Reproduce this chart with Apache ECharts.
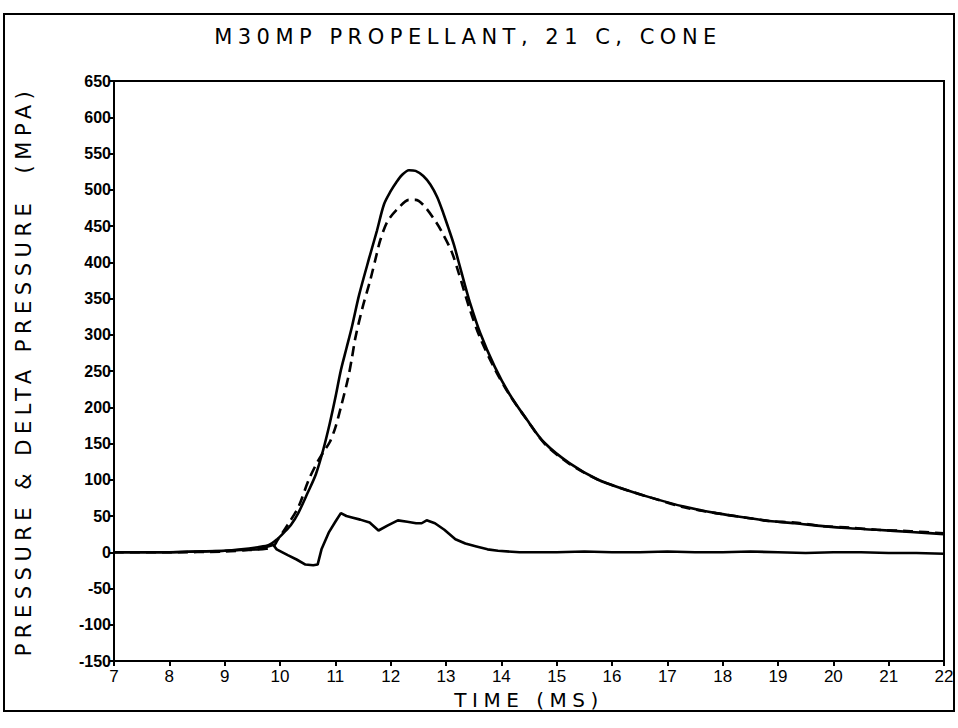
<!DOCTYPE html>
<html><head><meta charset="utf-8">
<script src="https://cdn.jsdelivr.net/npm/echarts@6/dist/echarts.min.js"></script>
<style>
html,body{margin:0;padding:0;background:#fff}
#c{width:958px;height:728px}
#c text{white-space:pre}
#c text[style*="DejaVu"]{letter-spacing:5.5px}
</style>
</head><body>
<div id="c"></div>
<script>
// ---- data ----
const titleText = 'M30MP PROPELLANT, 21 C, CONE';
const xName = 'TIME (MS)';
const yName = 'PRESSURE & DELTA PRESSURE  (MPA)';
const xTicks = [7, 8, 9, 10, 11, 12, 13, 14, 15, 16, 17, 18, 19, 20, 21, 22];
const yTicks = [-150, -100, -50, 0, 50, 100, 150, 200, 250, 300, 350, 400, 450, 500, 550, 600, 650];

// pressure (solid)
const solidT = [7, 8, 8.5, 9, 9.3, 9.6, 9.8, 9.95, 10.07, 10.2, 10.33, 10.5, 10.65, 10.78, 10.9, 11.0, 11.1, 11.2, 11.3, 11.43, 11.62, 11.75, 11.88, 12.0, 12.1, 12.2, 12.33, 12.45, 12.59, 12.72, 12.84, 12.95, 13.04, 13.14, 13.23, 13.33, 13.43, 13.62, 13.88, 14.14, 14.46, 14.78, 15.23, 15.75, 16.26, 16.72, 17.3, 17.88, 18.4, 18.84, 19.3, 19.81, 20.3, 20.78, 21.4, 22];
const solidP = [0, 0, 1, 2, 4, 7, 10, 18, 27, 38, 54, 82, 108, 141, 178, 213, 251, 281, 311, 355, 408, 443, 480, 498, 510, 520, 527, 526, 519, 507, 490, 468, 448, 425, 400, 372, 345, 302, 256, 219, 183, 151, 123, 100, 86, 75, 63, 54, 48, 43, 40, 36, 33, 31, 28, 25];

// pressure (dashed)
const dashT = [7, 8, 9, 9.43, 9.75, 9.88, 9.95, 10.14, 10.33, 10.52, 10.68, 10.8, 10.9, 11.0, 11.1, 11.23, 11.3, 11.36, 11.49, 11.63, 11.75, 11.81, 11.94, 12.13, 12.33, 12.45, 12.59, 12.78, 12.91, 13.1, 13.23, 13.43, 13.62, 13.88, 14.14, 14.46, 14.78, 15.23, 15.75, 16.26, 16.72, 17.3, 17.88, 18.4, 18.84, 19.3, 19.81, 20.3, 20.78, 21.4, 22];
const dashP = [0, 0, 1, 3, 5, 8, 16, 38, 62, 100, 125, 140, 152, 172, 200, 240, 268, 295, 337, 375, 412, 430, 456, 474, 486, 486, 479, 460, 444, 415, 385, 335, 295, 253, 218, 183, 150, 122, 100, 86, 75, 62, 54, 48, 43, 41, 36, 34, 31, 29, 26];

// delta pressure (solid, lower)
const deltaT = [7, 8, 8.5, 9, 9.3, 9.6, 9.88, 9.94, 10.14, 10.3, 10.46, 10.6, 10.68, 10.75, 10.88, 11.0, 11.1, 11.2, 11.3, 11.45, 11.62, 11.78, 11.95, 12.13, 12.3, 12.46, 12.56, 12.65, 12.8, 12.97, 13.17, 13.35, 13.55, 13.75, 13.94, 14.33, 15, 15.5, 16, 16.5, 17, 17.5, 18, 18.5, 19, 19.5, 20, 20.5, 21, 21.5, 22];
const deltaV = [0, 0, 1, 2, 3, 4, 10, 4, -4, -10, -17, -18, -17, 4, 27, 42, 54, 50, 48, 45, 41, 30, 37, 44, 42, 40, 40, 44, 40, 31, 18, 12, 8, 4, 2, 0, 0, 1, 0, 0, 1, 0, 0, 1, 0, -1, 0, 0, -1, -1, -2];

const zip = (a, b) => a.map((v, i) => [v, b[i]]);

const chart = echarts.init(document.getElementById('c'), null, {renderer: 'svg', width: 958, height: 728});
const lineW = 2.6;
chart.setOption({
  animation: false,
  backgroundColor: '#fff',
  grid: {left: 114, top: 81, width: 830, height: 580, show: true, borderColor: '#000', borderWidth: 2, backgroundColor: 'transparent'},
  xAxis: {
    type: 'value', min: xTicks[0], max: xTicks[xTicks.length - 1], interval: 1,
    name: xName, nameLocation: 'middle', nameGap: 27,
    nameTextStyle: {fontFamily: 'DejaVu Sans', fontSize: 20, color: '#000'},
    axisLine: {onZero: false, lineStyle: {color: '#000', width: 2}},
    axisTick: {show: true, length: 5, lineStyle: {color: '#000', width: 2}},
    axisLabel: {fontFamily: 'Liberation Sans', fontSize: 17, color: '#000', margin: 7},
    splitLine: {show: false}
  },
  yAxis: {
    type: 'value', min: yTicks[0], max: yTicks[yTicks.length - 1], interval: 50,
    name: yName, nameLocation: 'middle', nameGap: 80, nameRotate: 90,
    nameTextStyle: {fontFamily: 'DejaVu Sans', fontSize: 21, color: '#000'},
    axisLine: {onZero: false, lineStyle: {color: '#000', width: 2}},
    axisTick: {show: true, length: 5, lineStyle: {color: '#000', width: 2}},
    axisLabel: {fontFamily: 'Liberation Sans', fontWeight: 'bold', fontSize: 16, color: '#000', margin: 3},
    splitLine: {show: false}
  },
  graphic: [
    {type: 'rect', shape: {x: 4, y: 14, width: 950, height: 697}, style: {fill: 'none', stroke: '#000', lineWidth: 2}, silent: true},
    {type: 'text', x: 468, y: 37, style: {text: titleText, fontFamily: 'DejaVu Sans', fontSize: 21, fill: '#000', align: 'center', verticalAlign: 'middle'}}
  ],
  series: [
    {type: 'line', data: zip(solidT, solidP), showSymbol: false, smooth: 0.3, lineStyle: {color: '#000', width: lineW}},
    {type: 'line', data: zip(dashT, dashP), showSymbol: false, smooth: 0.3, lineStyle: {color: '#000', width: lineW, type: [10, 6]}},
    {type: 'line', data: zip(deltaT, deltaV), showSymbol: false, smooth: false, lineStyle: {color: '#000', width: lineW}}
  ]
});
</script>
</body></html>
